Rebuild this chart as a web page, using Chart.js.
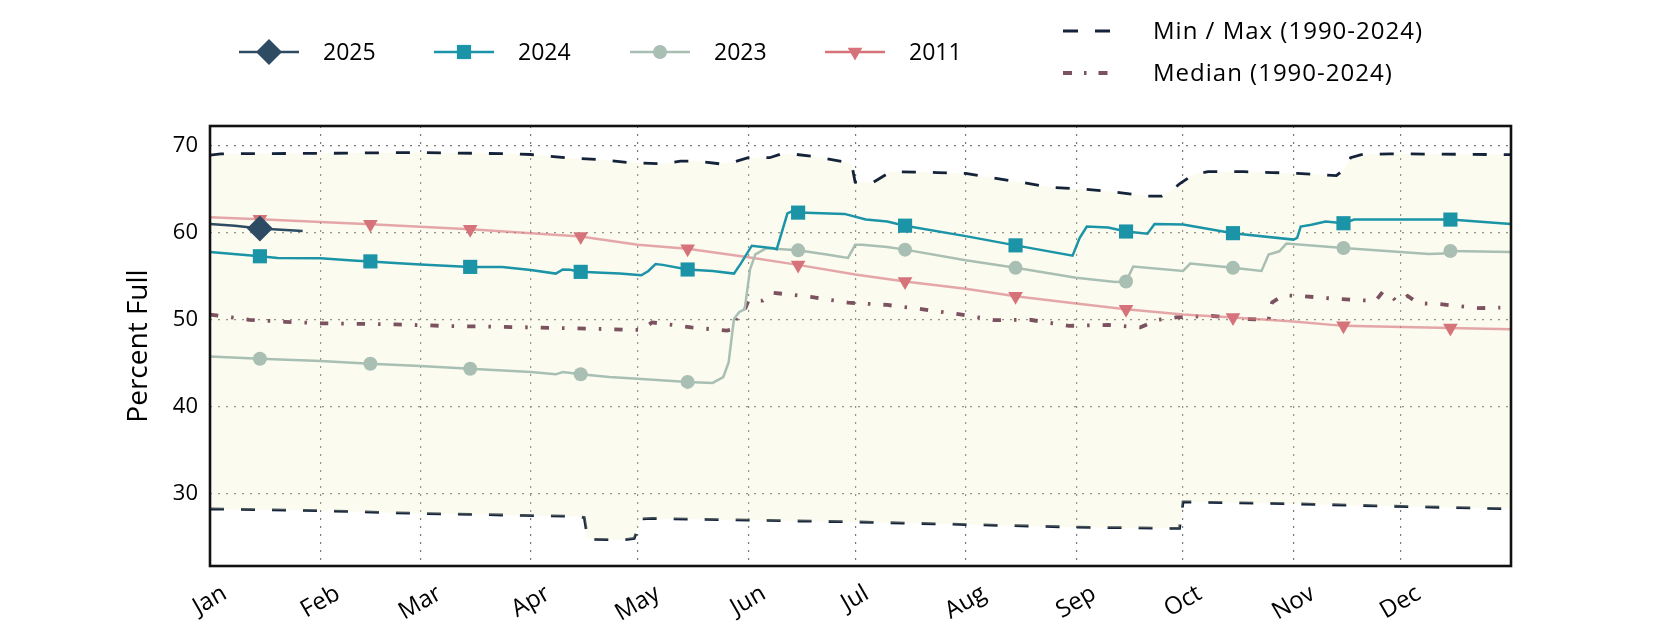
<!DOCTYPE html>
<html><head><meta charset="utf-8">
<script src="https://cdn.jsdelivr.net/npm/chart.js@4"></script>
<style>html,body{margin:0;padding:0;background:#fff}#wrap{width:1680px;height:630px;position:relative}</style>
</head><body><div id="wrap"><canvas id="c"></canvas></div>
<script>
const monthLabels = ['Jan','Feb','Mar','Apr','May','Jun','Jul','Aug','Sep','Oct','Nov','Dec'];
const monthStartDays = [0,31,59,90,120,151,181,212,243,273,304,334];
const yTicks = [30,40,50,60,70];
const markerDays = [14,45,73,104,134,165,195,226,257,287,318,348];

const days2025 = [0,7,14,26];
const vals2025 = [61.0,60.8,60.47,60.2];

const days2024 = [0,14,19,31,40,45,53,59,73,82,90,97,99,101,104,110,115,121,123,125,127,134,141,147,149,152,158,159,162,163,165,178,184,190,195,212,226,242,244,246,252,257,263,265,273,287,304,305,306,309,313,318,321,348,365];
const vals2024 = [57.78,57.29,57.1,57.06,56.8,56.7,56.5,56.34,56.07,56.07,55.7,55.3,55.77,55.75,55.5,55.4,55.3,55.1,55.6,56.4,56.3,55.77,55.6,55.3,56.5,58.5,58.2,58.1,62.2,62.4,62.3,62.15,61.5,61.27,60.8,59.6,58.54,57.36,59.4,60.7,60.6,60.13,59.87,61.0,60.93,59.94,59.2,59.4,60.7,60.9,61.27,61.08,61.5,61.5,61.0];

const days2023 = [0,14,31,45,59,73,90,97,99,104,112,120,134,141,144,145.5,147,148.5,150,151.5,153,156,165,173,179,181,183,190,195,212,226,243,254,257,259,273,275,287,295,297,300,302,318,342,346,348,365];
const vals2023 = [45.79,45.52,45.26,44.95,44.7,44.38,44.0,43.74,44.0,43.74,43.43,43.24,42.87,42.75,43.43,45.1,50.08,50.9,51.2,55.77,57.5,58.2,57.97,57.48,57.1,58.6,58.6,58.35,58.05,56.83,55.96,54.82,54.33,54.4,56.1,55.6,56.45,55.96,55.6,57.5,57.86,58.75,58.23,57.55,57.6,57.9,57.78];

const days2011 = [0,14,45,73,104,120,134,151,165,181,195,212,226,243,257,273,287,304,318,348,365];
const vals2011 = [61.76,61.54,60.97,60.4,59.56,58.6,58.16,57.17,56.3,55.2,54.4,53.57,52.7,51.86,51.2,50.6,50.27,49.8,49.3,49.05,48.9];

const daysMedian = [0,6,11,21,31,52,67,90,110,121,124,135,145,147,148,150,151,155,158,169,179,190,200,210,220,230,241,252,261,266,271,281,291,297,298,301,306,316,327,329,331,333,336,339,345,356,362];
const valsMedian = [50.6,50.27,50.0,49.77,49.6,49.47,49.28,49.13,48.94,48.82,49.7,49.13,48.75,48.94,50.6,51.1,52.16,52.2,53.1,52.6,51.97,51.7,51.2,50.65,49.96,50.0,49.3,49.4,49.13,50.0,50.27,50.45,50.08,50.0,52.0,52.8,52.73,52.4,52.16,53.2,52.9,52.05,52.73,51.9,51.8,51.33,51.4];

const daysMax = [0,3,31,59,84,90,100,109,118,127,132,137,143,147,151,157,160,164,170,178,180,181,186,191,204,212,218,228,236,245,254,263,267,270,272,276,280,290,298,305,316,318,320,323,331,365];
const valsMax = [68.9,69.05,69.1,69.2,69.05,68.97,68.6,68.4,68.03,67.9,68.2,68.2,67.9,68.1,68.6,68.6,69.0,69.0,68.7,68.1,67.9,65.8,65.75,67.0,66.9,66.8,66.4,65.75,65.2,65.0,64.65,64.2,64.2,64.9,65.6,66.7,67.0,67.0,66.9,66.8,66.55,67.2,68.6,68.95,69.05,68.95];

const daysMin = [0,30,56,88,103,105,106,116,119,121,124,151,181,212,243,272,273,302,332,365];
const valsMin = [28.28,28.1,27.8,27.55,27.43,27.3,24.8,24.75,24.9,27.13,27.2,27.0,26.8,26.5,26.2,26.05,29.1,28.9,28.6,28.3];

const FONT = "'Open Sans', 'Noto Sans', sans-serif";
const pts = (d, v) => d.map((x, i) => ({x: x, y: v[i]}));
const markerRadius = (r, list) => (ctx) => (ctx.raw && list.includes(ctx.raw.x)) ? r : 0;

const C2025 = '#2d4b63', C2024 = '#1a94a6', C2023 = '#a9bfb3', C2011 = '#d6737a', CMM = '#14233a', CMED = '#7c5260';

const datasets = [
  {label:'2025', data: pts(days2025, vals2025), borderColor: C2025, backgroundColor: C2025, borderWidth: 2.5,
   pointStyle:'rectRot', pointRadius: markerRadius(13, [14]), pointBorderWidth: 0},
  {label:'2024', data: pts(days2024, vals2024), borderColor: C2024, backgroundColor: C2024, borderWidth: 2.5,
   pointStyle:'rect', pointRadius: markerRadius(10, markerDays), pointBorderWidth: 0},
  {label:'2023', data: pts(days2023, vals2023), borderColor: C2023, backgroundColor: C2023, borderWidth: 2.5,
   pointStyle:'circle', pointRadius: markerRadius(7, markerDays), pointBorderWidth: 0},
  {label:'2011', data: pts(days2011, vals2011), borderColor: 'rgba(214,115,122,0.62)', backgroundColor: C2011, borderWidth: 2.5,
   pointStyle:'triangle', rotation: 180, pointRadius: markerRadius(8.5, markerDays), pointBorderWidth: 0},
  {label:'Median (1990-2024)', data: pts(daysMedian, valsMedian), borderColor: CMED, borderWidth: 3.8,
   borderDash: [8.3, 13, 2.5, 13], pointRadius: 0},
  {label:'Max', data: pts(daysMax, valsMax), borderColor: CMM, borderWidth: 2.8, borderDash: [14, 17],
   pointRadius: 0, fill: '+1', backgroundColor: 'rgba(238,238,190,0.24)'},
  {label:'Min', data: pts(daysMin, valsMin), borderColor: CMM, borderWidth: 2.8, borderDash: [14, 17],
   pointRadius: 0}
];

const frameAndLabels = {
  id: 'frameAndLabels',
  afterDraw(chart) {
    const {ctx, chartArea: a, scales} = chart;
    ctx.save();
    ctx.strokeStyle = '#111'; ctx.lineWidth = 2.6;
    ctx.strokeRect(a.left, a.top, a.right - a.left, a.bottom - a.top);
    // month labels
    ctx.fillStyle = '#000';
    ctx.font = '24px ' + FONT;
    const ang = Math.PI / 6;
    monthStartDays.forEach((d, i) => {
      const x = scales.x.getPixelForValue(d);
      const w = ctx.measureText(monthLabels[i]).width;
      const h = 24 * 0.75;
      const bh = w * Math.sin(ang) + h * Math.cos(ang);
      const cy = a.bottom + 18 + bh / 2;
      ctx.save();
      ctx.translate(x, cy);
      ctx.rotate(-ang);
      ctx.textAlign = 'center'; ctx.textBaseline = 'middle';
      ctx.fillText(monthLabels[i], 0, 0);
      ctx.restore();
    });
    // legend
    ctx.font = '23px ' + FONT;
    ctx.textBaseline = 'middle'; ctx.textAlign = 'left';
    const items = [
      {t:'2025', c:C2025, s:'rectRot', r:13, x:269},
      {t:'2024', c:C2024, s:'rect', r:10, x:464},
      {t:'2023', c:C2023, s:'circle', r:7, x:660},
      {t:'2011', c:C2011, s:'triangle', r:8.5, x:855, rot:180}
    ];
    const ly = 52;
    items.forEach(it => {
      ctx.strokeStyle = it.c; ctx.lineWidth = 2.5; ctx.setLineDash([]);
      ctx.beginPath(); ctx.moveTo(it.x - 30, ly); ctx.lineTo(it.x + 30, ly); ctx.stroke();
      ctx.fillStyle = it.c;
      Chart.helpers.drawPoint(ctx, {pointStyle: it.s, radius: it.r, rotation: it.rot || 0, borderWidth: 0}, it.x, ly);
      ctx.fillStyle = '#000';
      ctx.fillText(it.t, it.x + 54, ly + 1);
    });
    ctx.lineWidth = 2.8; ctx.strokeStyle = CMM; ctx.setLineDash([15, 17]);
    ctx.beginPath(); ctx.moveTo(1063, 31); ctx.lineTo(1111, 31); ctx.stroke();
    ctx.lineWidth = 3.8; ctx.strokeStyle = CMED; ctx.setLineDash([9, 12, 2.5, 12]);
    ctx.beginPath(); ctx.moveTo(1063, 73); ctx.lineTo(1111, 73); ctx.stroke();
    ctx.setLineDash([]);
    ctx.fillStyle = '#000';
    ctx.font = '24px ' + FONT;
    try { ctx.letterSpacing = '1px'; } catch (e) {}
    ctx.fillText('Min / Max (1990-2024)', 1153, 32);
    ctx.fillText('Median (1990-2024)', 1153, 74);
    try { ctx.letterSpacing = '0px'; } catch (e) {}
    ctx.restore();
  }
};

const gridCfg = {color: '#777', lineWidth: 1.2, drawTicks: false};

new Chart(document.getElementById('c'), {
  type: 'line',
  data: {datasets},
  options: {
    responsive: true, maintainAspectRatio: false, animation: false, events: [],
    layout: {padding: {top: 126, right: 169, bottom: 0, left: 0}},
    elements: {line: {tension: 0}},
    plugins: {legend: {display: false}, tooltip: {enabled: false}},
    scales: {
      x: {type: 'linear', min: 0, max: 365,
          afterBuildTicks: (s) => { s.ticks = monthStartDays.map(v => ({value: v})); },
          afterFit: (s) => { s.height = 64; },
          ticks: {display: false},
          grid: gridCfg,
          border: {display: false, dash: [2, 6]}},
      y: {type: 'linear', min: 21.74, max: 72.24,
          afterBuildTicks: (s) => { s.ticks = yTicks.map(v => ({value: v})); },
          afterFit: (s) => { s.width = 210; },
          ticks: {color: '#000', font: {family: FONT, size: 22}, padding: 12},
          title: {display: true, text: 'Percent Full', color: '#000', font: {family: FONT, size: 28}, padding: {top: 122, bottom: 0}},
          grid: gridCfg,
          border: {display: false, dash: [2, 6]}}
    }
  },
  plugins: [frameAndLabels]
});
</script>
</body></html>
